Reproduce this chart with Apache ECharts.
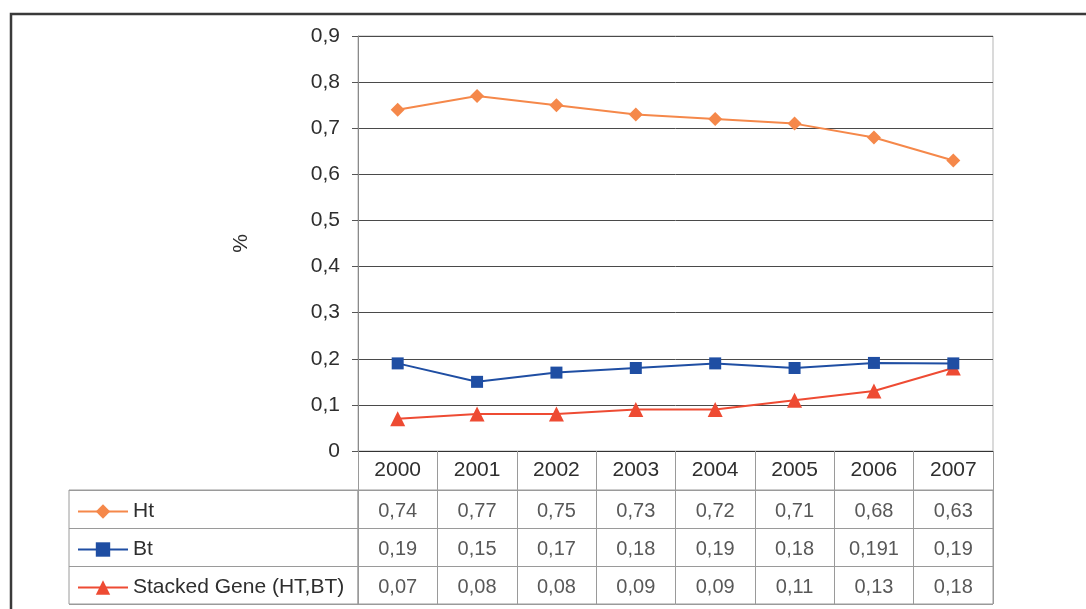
<!DOCTYPE html>
<html>
<head>
<meta charset="utf-8">
<script src="https://cdn.jsdelivr.net/npm/echarts@6/dist/echarts.min.js"></script>
<style>
  html, body { margin: 0; padding: 0; background: #fff; }
  #chart { width: 1086px; height: 609px; }
</style>
</head>
<body>
<div id="chart"></div>
<script>
// Years shown on the category axis and as the table header
const years = ['2000', '2001', '2002', '2003', '2004', '2005', '2006', '2007'];

// Series values (share, %)
const seriesNames = ['Ht', 'Bt', 'Stacked Gene (HT,BT)'];
const ht = [0.74, 0.77, 0.75, 0.73, 0.72, 0.71, 0.68, 0.63];
const bt = [0.19, 0.15, 0.17, 0.18, 0.19, 0.18, 0.191, 0.19];
const stacked = [0.07, 0.08, 0.08, 0.09, 0.09, 0.11, 0.13, 0.18];

// Value-axis ticks
const yTicks = { min: 0, max: 0.9, interval: 0.1 };

const FONT = "'Liberation Sans', Arial, sans-serif";
const TEXT = '#2e2e2e';
const TABLE_LINE = '#9a9a9a';
const colors = ['#F5884A', '#1F4EA3', '#EE4B33'];
const symbols = ['diamond', 'rect', 'triangle'];
const symbolSizes = [14, 12, 15];

const comma = v => String(v).replace('.', ',');

// Cells of the data table: [column, row, value]
const rows = [ht, bt, stacked];
const cells = [];
rows.forEach((vals, r) => vals.forEach((v, c) => cells.push([c, r, v])));

const chart = echarts.init(document.getElementById('chart'), null, { renderer: 'canvas' });

chart.setOption({
  animation: false,
  backgroundColor: '#fff',
  textStyle: { fontFamily: FONT },
  graphic: [{
    type: 'rect',
    shape: { x: 11, y: 14, width: 1100, height: 640 },
    style: { fill: 'none', stroke: '#3a3a3a', lineWidth: 2.5 },
    silent: true
  }],
  legend: {
    data: seriesNames,
    orient: 'vertical',
    left: 77,
    top: 501,
    padding: 0,
    itemWidth: 50,
    itemHeight: 18,
    itemGap: 17,
    textStyle: { fontSize: 21, color: TEXT, fontFamily: FONT, lineHeight: 21 },
    selectedMode: false
  },
  grid: [
    // plot area
    { left: 358, right: 93, top: 36, bottom: 158, show: true, borderColor: '#b5b5b5', borderWidth: 1 },
    // value cells of the table
    { left: 358, right: 93, top: 490, bottom: 5, show: true, borderColor: TABLE_LINE, borderWidth: 1 },
    // series-name column of the table
    { left: 69, width: 289, top: 490, bottom: 5, show: true, borderColor: TABLE_LINE, borderWidth: 1 }
  ],
  xAxis: [
    {
      gridIndex: 0, type: 'category', data: years, boundaryGap: true,
      axisLine: { lineStyle: { color: '#333', width: 1 } },
      axisTick: { show: true, interval: 0, length: 39, lineStyle: { color: TABLE_LINE } },
      axisLabel: { interval: 0, margin: 9, fontSize: 21, color: TEXT, fontFamily: FONT }
    },
    {
      gridIndex: 1, type: 'category', data: years, boundaryGap: true,
      axisLine: { show: false }, axisTick: { show: false }, axisLabel: { show: false },
      splitLine: { show: true, interval: 0, lineStyle: { color: TABLE_LINE } }
    },
    {
      gridIndex: 2, type: 'value', min: 0, max: 1,
      axisLine: { show: false }, axisTick: { show: false }, axisLabel: { show: false }, splitLine: { show: false }
    }
  ],
  yAxis: [
    {
      gridIndex: 0, type: 'value', min: yTicks.min, max: yTicks.max, interval: yTicks.interval,
      name: '%', nameLocation: 'middle', nameRotate: 90, nameGap: 106,
      nameTextStyle: { fontSize: 21, color: TEXT, fontFamily: FONT },
      axisLine: { show: true, lineStyle: { color: '#8a8a8a' } },
      axisTick: { show: true, length: 6, lineStyle: { color: '#555' } },
      axisLabel: { margin: 18, fontSize: 21, color: TEXT, fontFamily: FONT,
        formatter: v => comma(Math.round(v * 10) / 10) },
      splitLine: { show: true, lineStyle: { color: '#4a4a4a', width: 1 } }
    },
    {
      gridIndex: 1, type: 'category', data: seriesNames, inverse: true,
      axisLine: { show: false }, axisTick: { show: false }, axisLabel: { show: false },
      splitLine: { show: true, interval: 0, lineStyle: { color: TABLE_LINE } }
    },
    {
      gridIndex: 2, type: 'category', data: seriesNames, inverse: true,
      axisLine: { show: false }, axisTick: { show: false }, axisLabel: { show: false },
      splitLine: { show: true, interval: 0, lineStyle: { color: TABLE_LINE } }
    }
  ],
  series: [
    ...rows.map((vals, i) => ({
      name: seriesNames[i],
      type: 'line',
      xAxisIndex: 0, yAxisIndex: 0,
      data: vals,
      symbol: symbols[i],
      symbolSize: symbolSizes[i],
      showAllSymbol: true,
      lineStyle: { color: colors[i], width: 2 },
      itemStyle: { color: colors[i] },
      z: 3 + (2 - i)
    })),
    {
      name: 'table',
      type: 'scatter',
      xAxisIndex: 1, yAxisIndex: 1,
      data: cells,
      symbolSize: 1,
      itemStyle: { color: 'rgba(0,0,0,0)' },
      label: {
        show: true, position: 'inside', fontSize: 20, color: TEXT, fontFamily: FONT,
        offset: [0, 2],
        formatter: p => comma(p.value[2])
      },
      silent: true
    }
  ]
});
</script>
</body>
</html>
